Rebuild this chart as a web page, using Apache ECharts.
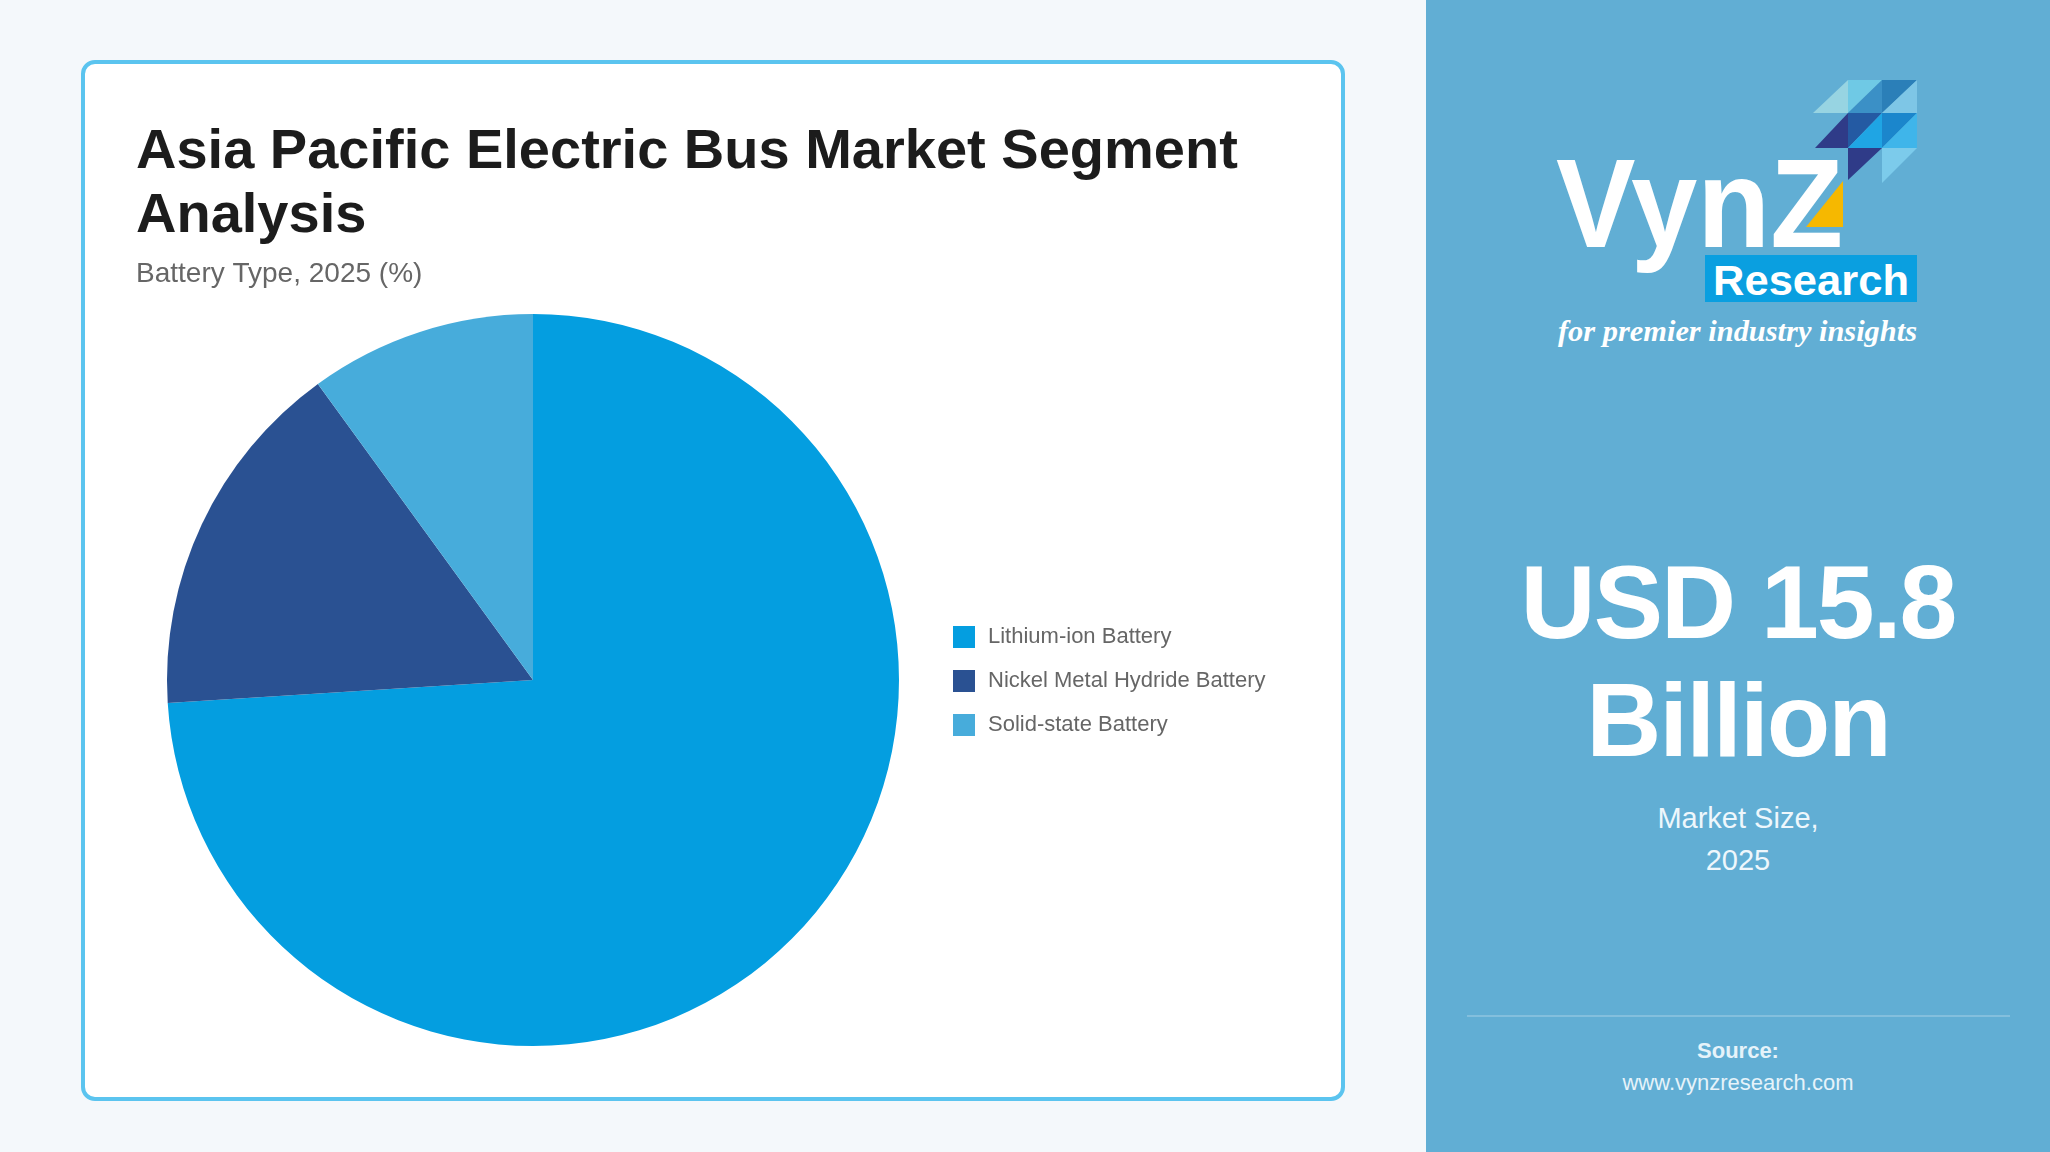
<!DOCTYPE html>
<html>
<head>
<meta charset="utf-8">
<script src="https://cdn.jsdelivr.net/npm/echarts@6/dist/echarts.min.js"></script>
<style>
  html, body { margin:0; padding:0; width:2050px; height:1152px; overflow:hidden; background:#f4f8fb; font-family:"Liberation Sans", Arial, sans-serif; }
  #card { position:absolute; left:81px; top:60px; width:1256px; height:1033px; border:4px solid #5bc4ef; border-radius:14px; background:#fff; }
  #panel { position:absolute; left:1426px; top:0; width:624px; height:1152px; background:#61aed4; }
  #chart { position:absolute; left:0; top:0; width:2050px; height:1152px; }
  .big { position:absolute; left:0; width:624px; text-align:center; color:#fff; font-weight:bold; font-size:104px; line-height:118px; letter-spacing:-2px; }
  .small { position:absolute; left:0; width:624px; text-align:center; color:#eef7fc; font-size:29px; line-height:42px; }
  #sep { position:absolute; left:41px; width:543px; top:1015px; height:2px; background:rgba(255,255,255,0.22); }
  .src { position:absolute; left:0; width:624px; text-align:center; color:#e6f3fa; font-size:22px; line-height:30px; }
  #logo { position:absolute; left:0; top:0; }
</style>
</head>
<body>
<div id="card"></div>
<div id="panel">
  <svg id="logo" width="624" height="400" viewBox="1426 0 624 400">
    <polygon points="1848,80 1848,113 1813,113" fill="#97d4e2"/>
    <polygon points="1848,80 1882,80 1848,113" fill="#6fc9e5"/>
    <polygon points="1882,80 1882,113 1848,113" fill="#3b90c6"/>
    <polygon points="1882,80 1917,80 1882,113" fill="#2b7fb8"/>
    <polygon points="1917,80 1917,113 1882,113" fill="#7ec6e6"/>
    <polygon points="1848,113 1848,148 1815,148" fill="#2f3b88"/>
    <polygon points="1848,113 1882,113 1848,148" fill="#245aa3"/>
    <polygon points="1882,113 1882,148 1848,148" fill="#1fa5e4"/>
    <polygon points="1882,113 1917,113 1882,148" fill="#1b86cc"/>
    <polygon points="1917,113 1917,148 1882,148" fill="#3fb5ea"/>
    <polygon points="1848,148 1882,148 1848,180" fill="#2f3b88"/>
    <polygon points="1882,148 1917,148 1882,183" fill="#7ccbeb"/>
    <text x="1556" y="247" font-family="Liberation Sans, Arial, sans-serif" font-weight="bold" font-size="126" fill="#fff" textLength="287" lengthAdjust="spacingAndGlyphs">VynZ</text>
    <polygon points="1806,227 1843,227 1843,181" fill="#f6b800"/>
    <rect x="1705" y="255" width="212" height="47" fill="#0a9fe0"/>
    <text x="1811" y="295" text-anchor="middle" font-family="Liberation Sans, Arial, sans-serif" font-weight="bold" font-size="43" fill="#fff" textLength="196" lengthAdjust="spacingAndGlyphs">Research</text>
    <text x="1558" y="341" font-family="Liberation Serif, serif" font-style="italic" font-weight="bold" font-size="30" fill="#fff" textLength="359" lengthAdjust="spacingAndGlyphs">for premier industry insights</text>
  </svg>
  <div class="big" style="top:543px;">USD 15.8</div>
  <div class="big" style="top:661px;">Billion</div>
  <div class="small" style="top:797px;">Market Size,</div>
  <div class="small" style="top:839px;">2025</div>
  <div id="sep"></div>
  <div class="src" style="top:1036px;font-weight:bold;">Source:</div>
  <div class="src" style="top:1068px;">www.vynzresearch.com</div>
</div>
<div id="chart"></div>
<script>
const categories = ["Lithium-ion Battery", "Nickel Metal Hydride Battery", "Solid-state Battery"];
const shares = [74, 16, 10];
const colors = ["#049ee0", "#2a5192", "#47acdb"];

const chart = echarts.init(document.getElementById('chart'), null, { renderer: 'canvas' });
chart.setOption({
  backgroundColor: 'transparent',
  animation: false,
  color: colors,
  title: {
    text: 'Asia Pacific Electric Bus Market Segment\nAnalysis',
    subtext: 'Battery Type, 2025 (%)',
    left: 136,
    top: 121,
    padding: 0,
    itemGap: 8,
    textStyle: { fontFamily: 'Liberation Sans, Arial, sans-serif', fontSize: 56, fontWeight: 'bold', color: '#1c1c1c', lineHeight: 64 },
    subtextStyle: { fontFamily: 'Liberation Sans, Arial, sans-serif', fontSize: 28, color: '#666', lineHeight: 34 }
  },
  legend: {
    orient: 'vertical',
    left: 953,
    top: 626,
    padding: 0,
    itemWidth: 22,
    itemHeight: 22,
    itemGap: 22,
    icon: 'rect',
    data: categories,
    textStyle: { fontFamily: 'Liberation Sans, Arial, sans-serif', fontSize: 22, color: '#666', padding: [0, 0, 0, 8] }
  },
  series: [{
    type: 'pie',
    center: [533, 680],
    radius: [0, 366],
    startAngle: 90,
    clockwise: true,
    label: { show: false },
    labelLine: { show: false },
    emphasis: { disabled: true },
    itemStyle: { borderWidth: 0 },
    data: categories.map((c, i) => ({ name: c, value: shares[i] }))
  }]
});
</script>
</body>
</html>
